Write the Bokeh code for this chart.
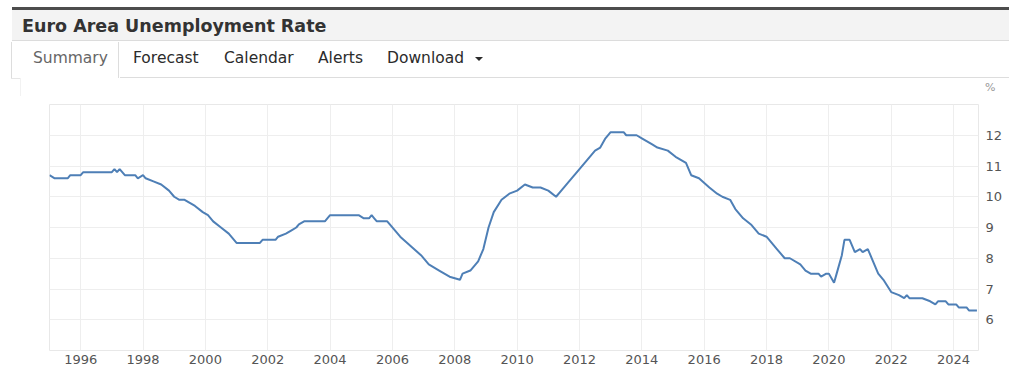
from bokeh.plotting import figure
from bokeh.layouts import column
from bokeh.models import Range1d, FixedTicker, Div
from bokeh.embed import file_html
from bokeh.resources import INLINE

# ---------------- data ----------------
title_text = "Euro Area Unemployment Rate"
tab_labels = ["Summary", "Forecast", "Calendar", "Alerts", "Download"]
unit_label = "%"

dates = [
    "1995-01", "1995-03", "1995-08", "1995-09", "1996-01", "1996-02", "1997-01", "1997-02",
    "1997-03", "1997-04", "1997-05", "1997-06", "1997-10", "1997-11", "1998-01", "1998-02",
    "1998-05", "1998-08", "1998-11", "1999-01", "1999-03", "1999-05", "1999-07", "1999-09",
    "1999-12", "2000-02", "2000-04", "2000-07", "2000-10", "2001-01", "2001-10", "2001-11",
    "2002-04", "2002-05", "2002-08", "2002-10", "2002-12", "2003-01", "2003-03", "2003-11",
    "2004-01", "2004-12", "2005-02", "2005-04", "2005-05", "2005-06", "2005-07", "2005-11",
    "2005-12", "2006-04", "2006-08", "2006-12", "2007-03", "2007-07", "2007-11", "2008-03",
    "2008-04", "2008-07", "2008-10", "2008-12", "2009-02", "2009-04", "2009-07", "2009-10",
    "2010-01", "2010-04", "2010-07", "2010-10", "2011-01", "2011-04", "2011-06", "2011-09",
    "2012-01", "2012-04", "2012-07", "2012-09", "2012-11", "2013-01", "2013-06", "2013-07",
    "2013-11", "2014-01", "2014-05", "2014-07", "2014-11", "2015-02", "2015-06", "2015-08",
    "2015-11", "2016-03", "2016-06", "2016-08", "2016-11", "2017-01", "2017-04", "2017-07",
    "2017-10", "2018-01", "2018-05", "2018-08", "2018-10", "2019-02", "2019-04", "2019-06",
    "2019-09", "2019-10", "2019-12", "2020-01", "2020-03", "2020-04", "2020-06", "2020-07",
    "2020-09", "2020-11", "2021-01", "2021-02", "2021-04", "2021-06", "2021-08", "2021-10",
    "2022-01", "2022-04", "2022-06", "2022-07", "2022-08", "2023-01", "2023-04", "2023-06",
    "2023-07", "2023-10", "2023-11", "2024-02", "2024-03", "2024-06", "2024-07", "2024-10",
]
rates = [
    10.7, 10.6, 10.6, 10.7, 10.7, 10.8, 10.8, 10.9,
    10.8, 10.9, 10.8, 10.7, 10.7, 10.6, 10.7, 10.6,
    10.5, 10.4, 10.2, 10.0, 9.9, 9.9, 9.8, 9.7,
    9.5, 9.4, 9.2, 9.0, 8.8, 8.5, 8.5, 8.6,
    8.6, 8.7, 8.8, 8.9, 9.0, 9.1, 9.2, 9.2,
    9.4, 9.4, 9.3, 9.3, 9.4, 9.3, 9.2, 9.2,
    9.1, 8.7, 8.4, 8.1, 7.8, 7.6, 7.4, 7.3,
    7.5, 7.6, 7.9, 8.3, 9.0, 9.5, 9.9, 10.1,
    10.2, 10.4, 10.3, 10.3, 10.2, 10.0, 10.2, 10.5,
    10.9, 11.2, 11.5, 11.6, 11.9, 12.1, 12.1, 12.0,
    12.0, 11.9, 11.7, 11.6, 11.5, 11.3, 11.1, 10.7,
    10.6, 10.3, 10.1, 10.0, 9.9, 9.6, 9.3, 9.1,
    8.8, 8.7, 8.3, 8.0, 8.0, 7.8, 7.6, 7.5,
    7.5, 7.4, 7.5, 7.5, 7.2, 7.5, 8.1, 8.6,
    8.6, 8.2, 8.3, 8.2, 8.3, 7.9, 7.5, 7.3,
    6.9, 6.8, 6.7, 6.8, 6.7, 6.7, 6.6, 6.5,
    6.6, 6.6, 6.5, 6.5, 6.4, 6.4, 6.3, 6.3,
]
x_tick_years = [1996, 1998, 2000, 2002, 2004, 2006, 2008, 2010, 2012, 2014,
                2016, 2018, 2020, 2022, 2024]
x_tick_labels = [str(y) for y in x_tick_years]
y_grid_values = [5, 6, 7, 8, 9, 10, 11, 12, 13]
y_tick_labels = ["", "6", "7", "8", "9", "10", "11", "12", ""]

xs = [int(d[:4]) + (int(d[5:7]) - 1) / 12.0 for d in dates]

FONT = "DejaVu Sans"

# ---------------- header (HTML) ----------------
tab_left = [33, 133, 224, 318, 387]
tab_color = ["#666666", "#2b2b2b", "#2b2b2b", "#2b2b2b", "#2b2b2b"]
tabs_html = "".join(
    f'<div style="position:absolute;left:{x}px;top:47px;height:22px;line-height:22px;'
    f'font-size:15.5px;color:{c};white-space:nowrap;">{t}</div>'
    for x, c, t in zip(tab_left, tab_color, tab_labels)
)
header_html = (
    f'<div style="position:relative;width:1024px;height:96px;font-family:\'{FONT}\';background:white;">'
    '<div style="position:absolute;left:12px;top:7px;width:997px;height:3px;background:#4d4d4d;"></div>'
    '<div style="position:absolute;left:12px;top:10px;width:997px;height:31px;background:#f3f3f3;'
    'border-bottom:1px solid #dcdcdc;"></div>'
    f'<div style="position:absolute;left:22px;top:14px;height:24px;line-height:24px;font-size:17.5px;'
    f'font-weight:bold;color:#333333;white-space:nowrap;">{title_text}</div>'
    '<div style="position:absolute;left:11px;top:42px;width:108px;height:36px;background:white;'
    'border-left:1px solid #dddddd;border-right:1px solid #dddddd;"></div>'
    '<div style="position:absolute;left:120px;top:77px;width:889px;height:1px;background:#dddddd;"></div>'
    '<div style="position:absolute;left:11px;top:78px;width:9px;height:1px;background:#e6e6e6;"></div>'
    '<div style="position:absolute;left:20px;top:78px;width:1px;height:18px;background:#f2f2f2;"></div>'
    + tabs_html +
    '<div style="position:absolute;left:475px;top:57px;width:0;height:0;border-left:4px solid transparent;'
    'border-right:4px solid transparent;border-top:4px solid #2b2b2b;"></div>'
    f'<div style="position:absolute;left:985px;top:80px;height:16px;line-height:16px;font-size:11px;'
    f'color:#999999;">{unit_label}</div>'
    '</div>'
)
header = Div(text=header_html, width=1024, height=96, margin=(0, 0, 0, 0))

# ---------------- chart ----------------
p = figure(width=1024, height=283, x_range=Range1d(1995.0, 2024.8), y_range=Range1d(5, 13),
           toolbar_location=None, output_backend="svg", y_axis_location="right",
           min_border_left=49, min_border_right=46, min_border_top=8, min_border_bottom=29,
           margin=(0, 0, 0, 0))
p.background_fill_color = "white"
p.border_fill_color = "white"
p.outline_line_color = "#e8e8e8"

p.line(xs, rates, line_color="#4e7fb6", line_width=2)

p.xaxis.ticker = FixedTicker(ticks=x_tick_years)
p.xaxis.major_label_overrides = dict(zip(x_tick_years, x_tick_labels))
p.yaxis.ticker = FixedTicker(ticks=y_grid_values)
p.yaxis.major_label_overrides = dict(zip(y_grid_values, y_tick_labels))
for ax in (p.xaxis, p.yaxis):
    ax.axis_line_color = None
    ax.major_tick_line_color = None
    ax.minor_tick_line_color = None
    ax.major_tick_out = 0
    ax.major_tick_in = 0
    ax.major_label_text_font = FONT
    ax.major_label_text_font_size = "13px"
    ax.major_label_text_color = "#555555"
p.xaxis.major_label_standoff = 4
p.yaxis.major_label_standoff = 7

p.xgrid.grid_line_color = "#eeeeee"
p.ygrid.grid_line_color = "#eeeeee"

layout = column(header, p, spacing=0)
open("out.html", "w").write(file_html(layout, INLINE))
